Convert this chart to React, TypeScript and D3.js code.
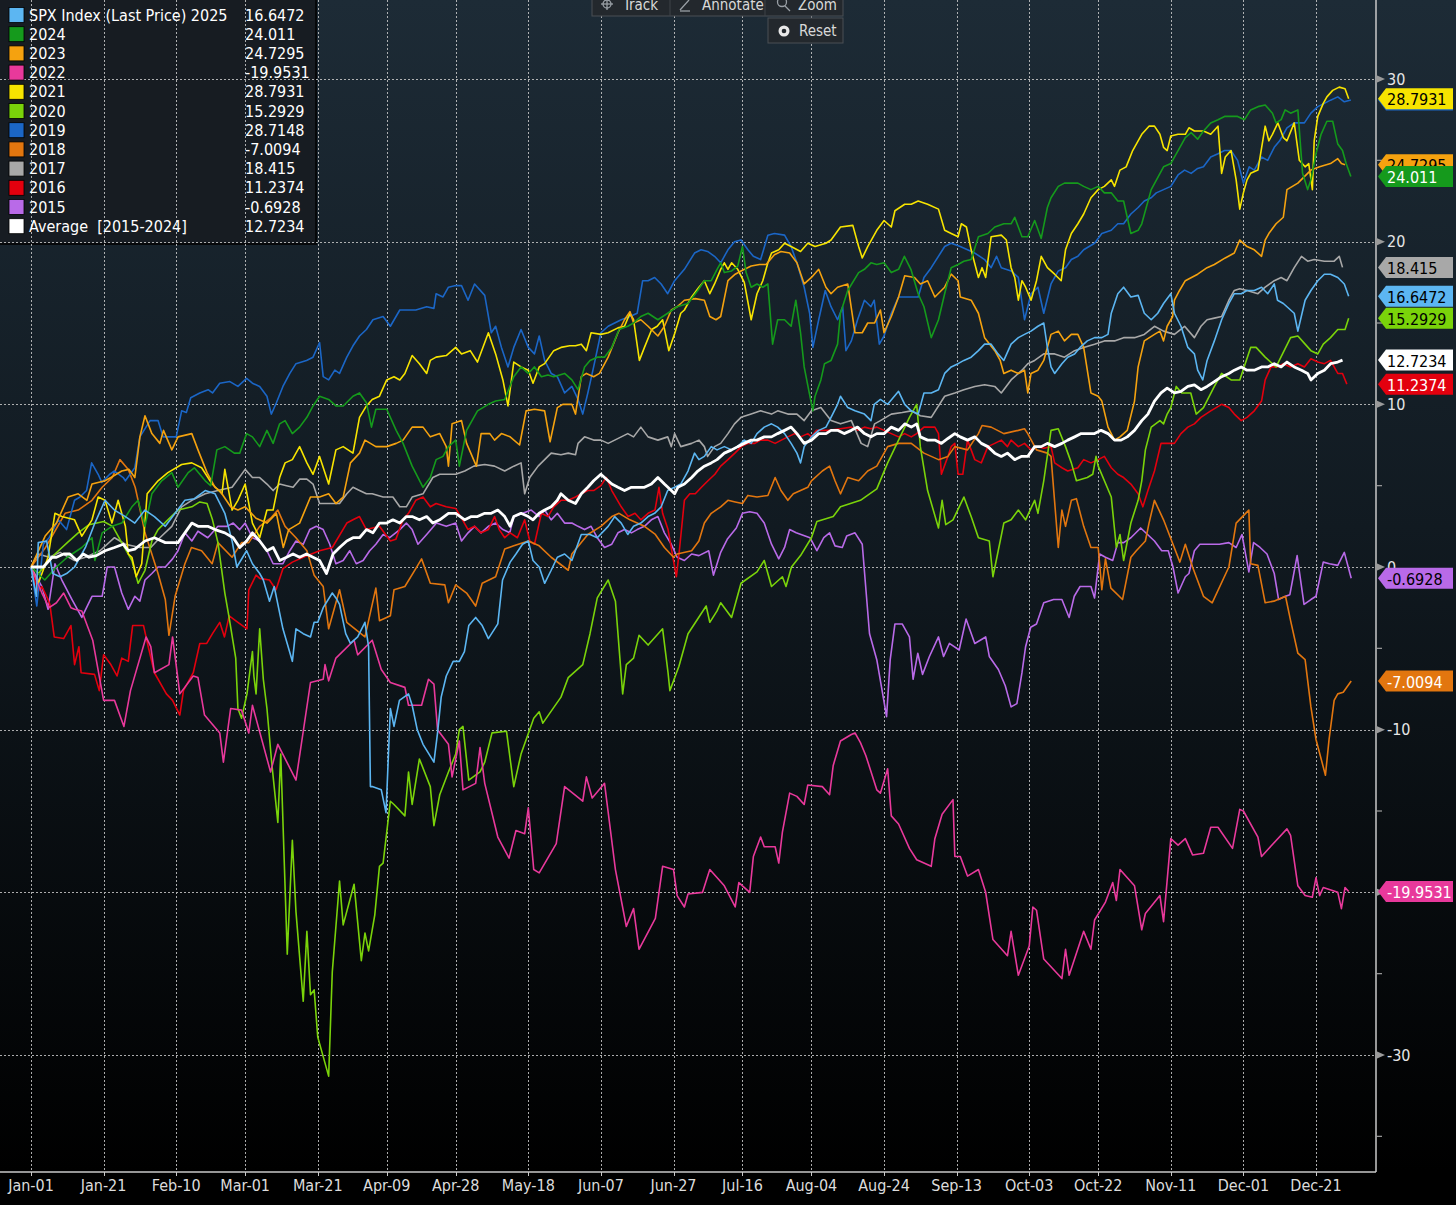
import * as d3 from 'd3';

// seasonality chart: SPX YTD % change by year, day-of-year on x

const dateLabels = ["Jan-01", "Jan-21", "Feb-10", "Mar-01", "Mar-21", "Apr-09", "Apr-28", "May-18", "Jun-07", "Jun-27",
    "Jul-16", "Aug-04", "Aug-24", "Sep-13", "Oct-03", "Oct-22", "Nov-11", "Dec-01", "Dec-21"];
const dateDays = [0, 20, 40, 59, 79, 98, 117, 137, 157, 177, 196, 215, 235, 255, 275, 294, 314, 334, 354];
const yMajor = [30, 20, 10, 0, -10, -20, -30];
const yMinor = [25, 15, 5, -5, -15, -25, -35];

// [day, % change]
const s2025 = [[0,0],[1.5,-1.8],[2,1.5],[4.3,1.6],[6,-0.4],[8,-0.6],[9.8,-0.4],[12,0],[15,1.2],[17.6,2.7],[20.4,4.1],[23,3.5],[26,3.1],[28.6,2.7],[31.4,3.5],[34,3.1],[37,2.5],[39.7,3.3],[42.4,4.1],[45,4.2],[48,4.7],[50.7,4.5],[53.4,3.3],[55.4,1.6],[56.7,0],[59.4,1],[61,0.2],[63,-0.4],[64,-0.8],[65.7,-2.1],[67,-1.2],[69.4,-3.8],[72,-5.8],[73,-3.8],[75,-4.1],[77,-4.3],[78,-3.4],[79,-3.4],[80.5,-2.5],[83,-1.6],[84,-1.9],[85,-2.3],[86.7,-4.1],[88,-4.7],[90,-4.3],[92,-3.4],[93,-4.9],[93.5,-13.5],[94,-13.5],[96.5,-13.7],[97.8,-15.1],[99,-8.7],[100,-9.8],[101.5,-8.2],[104,-7.8],[105,-8.5],[106.4,-10],[108,-10.9],[111,-12],[112,-10.2],[113,-8],[114.4,-6.7],[116.3,-5.8],[118,-5.8],[119.4,-5.2],[120.6,-3.6],[122.5,-3.1],[124.3,-3.6],[126,-4.4],[128.6,-3.5],[129.9,-0.8],[132,0.3],[133.6,0.8],[135.4,1.4],[137,1.6],[138.3,0.4],[140,0],[141.5,-1],[143.3,-0.2],[145,0.6],[147,0.8],[149,0.4],[151.6,2],[154,2],[156,1.8],[159,2.5],[160.8,3.1],[162.6,2.7],[164.4,2],[166,2.5],[168,2.7],[170,3.1],[171.8,3.3],[173.6,3.7],[175.4,4.7],[177.3,4.9],[179,5.1],[181,5.9],[182.8,7],[184,6.6],[185.5,6.8],[187.4,7.4],[189,7.2],[191,7.4],[193,7.2],[194.7,7.4],[196.5,7.8],[198.4,7.6],[200,8.2],[202,8.6],[204,8.8],[205.7,8.6],[207.6,8.2],[209.4,7.6],[211,7],[212,6.4],[213,7.4],[215,8],[217,8.4],[219,8.6],[220.4,9.2],[222.2,10],[223,10.5],[225,9.8],[227,9.6],[229.6,9.4],[231.4,9],[232.3,10],[234,10.3],[236,10],[239,10.8],[240.7,10],[242.5,9.6],[244.4,9.4],[246,10.7],[248,10.7],[250,10.9],[251.7,11.9],[253.5,12.3],[255.4,12.5],[257,12.7],[259,12.9],[261,13.3],[262.7,13.7],[264.5,13.7],[266.4,13.1],[268,12.7],[270,13.7],[272,14.1],[273.7,14.3],[275.5,14.5],[277.4,14.8],[279,15],[280,13.5],[281,12.3],[282,11.9],[284,12.5],[285.6,12.9],[287.5,13.1],[289,13.5],[291,13.9],[293,14.1],[295,14.1],[296.7,14.3],[297.6,15.6],[299.4,16.8],[301,17.2],[303,16.6],[305,16.7],[306.7,15.6],[308.6,15.2],[310.4,15.6],[312,16.2],[314,16.8],[315,15.6],[316.8,14.8],[318.7,13.5],[320.5,13.1],[321.4,12.1],[322.8,11.5],[324,12.7],[326,13.9],[328,15.2],[330,16.2],[331.5,16.8],[333.4,16.8],[335,17],[337,17],[339,17.2],[340.7,16.8],[342.5,17.4],[343.4,16.4],[345,16.2],[348,15.6],[349,14.5],[351,16.4],[352.6,17],[354.5,17.6],[356.3,18],[358,18],[360,17.8],[361.8,17.4],[363,16.65]];

const s2024 = [[0,0],[3.8,-0.8],[7,0],[10,0.6],[14,1.2],[16.8,1.8],[17.6,0.4],[19.6,2.1],[22.3,2.5],[25,2.7],[27.8,3.7],[29.5,4.1],[31.4,2.5],[33.3,4.5],[36,5.3],[38.8,5.8],[40.5,4.9],[43.3,5.8],[45,6.1],[48,5.3],[49.5,5],[51.2,7.2],[53.4,7.4],[56,7],[57.5,7],[59.4,8.2],[61,8],[63,7.4],[65,8.4],[66.7,7.6],[68.5,8.8],[70,9],[72,8.2],[74,8.6],[76,9.2],[77.7,9.9],[79.5,10.5],[82,10.3],[84,9.9],[86,9.9],[88.7,10.5],[90.5,10.7],[92.4,10.1],[93.8,8.6],[95,9.7],[98,9.7],[100.6,8.4],[102.5,7.6],[105,6.2],[108,4.9],[110,5.5],[111.6,6.6],[113.5,6.8],[115,7.4],[117,7.8],[118,6.2],[120,8.4],[123,9.6],[126,10],[128,10.2],[130.5,10.3],[133,11.7],[135,12.3],[137,11.9],[138.7,12.3],[140.6,11.7],[142.4,11.8],[144,11.7],[147,11.9],[149,11.5],[150.7,10.9],[152.5,12.3],[154,12.7],[156,12.9],[158,12.9],[160,13.5],[162,14.6],[164.4,14.8],[166,15],[168,15.4],[170,15.6],[172.7,15.2],[175.4,15.6],[178,16],[181,16.2],[183.7,17],[185.5,17.6],[187.4,17.6],[189,18.3],[190,18.7],[191,18.1],[193,18.2],[194.7,18.5],[196,19.7],[197,18.1],[198.4,17.2],[200,17.4],[201.6,17.2],[203,17.4],[204.3,13.7],[205.7,15.2],[207.6,15.2],[209.4,14.8],[210.7,16.4],[212,14.4],[213,12.3],[214.4,10.7],[215.4,9.6],[216,10.5],[217.6,11.5],[218.6,12.5],[220.4,12.7],[222.2,13.7],[223,15.6],[225,17],[228,18.1],[229.6,18.3],[231.4,18.7],[233,18.6],[235,18.7],[237,18.1],[239,18.3],[240.6,19.1],[242.4,18.3],[244.4,16.8],[246,16],[248,14.1],[250,15.2],[251.7,16.8],[253.5,18.4],[255.4,18.6],[257,18.8],[259,18.9],[261,20.3],[263.6,20.5],[265.5,20.9],[268,21.1],[270,21.1],[271,21.5],[273,20.3],[274.6,20.3],[276.5,21.3],[278.3,20.2],[280,22.1],[281,22.7],[283,23.4],[284.7,23.6],[286.6,23.6],[288.4,23.6],[290,23.4],[292,23.2],[294,23.4],[295.7,23],[297.6,23],[299.4,22.5],[301,22.5],[303,20.5],[305,20.7],[306,21.1],[308.6,23.2],[312,24.6],[314,24.8],[316,25.6],[318,26.4],[319.6,26.7],[321.4,26.3],[323,26.8],[325,27.3],[327,27.5],[328.8,27.7],[332.4,27.7],[334.3,27.5],[336,28.1],[338,28.3],[340,28.4],[342,27.9],[343,27.3],[344.4,27.5],[345.5,28.1],[347,27.9],[349,28.1],[350.3,24.2],[351.7,23.2],[352.6,23.8],[354,25.4],[355.4,26.6],[357,27.4],[358.6,27.4],[360,26],[361.3,25.6],[362.3,24.8],[363.6,24.01]];

const s2023 = [[0,0],[3.9,1.9],[7,2.7],[10.2,4.3],[13,4.5],[15.4,4.1],[16.8,5.1],[20.4,5.3],[22,5.5],[25,5.9],[27,6],[28.6,5.5],[30,8],[31.4,9.3],[33.3,8.2],[35.5,7.6],[36.5,8.4],[38.8,7.2],[40.5,8],[44.3,8.2],[46,7.2],[48.5,5.8],[50.7,4.9],[52,4.7],[55,3.7],[57,3.5],[59,3.7],[62,3],[65,2.7],[67.6,3.3],[69.5,1.2],[71,2.3],[74,2.7],[77,4.3],[79.5,4.3],[82,4.5],[84,3.9],[86,4.3],[88,6.4],[90.5,7],[92,7.8],[95,7.4],[98,7.4],[100.6,7.6],[102.5,7.8],[105,8.6],[108,8.6],[110,8],[112.6,8.2],[114.4,7.4],[115,6.2],[116,8.8],[118.6,9],[120,7.6],[122.7,6.2],[124,8.2],[126.4,8.2],[127.7,7.8],[129.6,8.2],[132,8],[134.6,7.5],[136.4,9.6],[138.7,9.7],[141.5,9.6],[143,7.7],[145,9.8],[146.5,10],[149,10],[150,9.4],[151.6,11.7],[153,11.9],[155,11.7],[156.6,11.9],[159,12.9],[161.7,14.4],[163.5,15.2],[165,15.7],[166,15],[168,15.2],[170,14.8],[172.7,14.2],[174.5,14.8],[176.4,15.8],[178,16],[180,16.4],[183,16.5],[185.5,16.4],[187,15.4],[188.7,15.2],[190,15.4],[192,17.6],[194,18],[195.6,18.2],[198.4,18.5],[200.7,18.6],[202.5,18.6],[204.8,19.2],[206.6,19.4],[209,19.3],[211,18.7],[213,17.4],[215,17.8],[217,18.3],[219,17.2],[220.4,16.8],[222.2,17.2],[225,17.4],[227,14.4],[229,14.4],[230.5,15],[232.4,15],[234,15.8],[235,14.4],[237,15.4],[239,16.6],[240.7,17.9],[243.4,17.8],[245,17.4],[247,17.6],[249,16.6],[251.7,17.2],[253.5,18],[255.4,17.6],[256,16.6],[259,16.4],[261,15.6],[262.7,14.1],[265.5,13.3],[267,12.7],[268,11.9],[270,12.1],[272,11.9],[273.7,12.1],[274.6,10.7],[275.5,11.9],[277.4,12.1],[279,12.7],[281,14.3],[283,14.5],[284.7,13.9],[286.6,14.3],[288.4,14.3],[290,13.5],[292,10.7],[294,10.5],[295,10.2],[296.7,8.6],[298.5,7.8],[300,8],[302,8.4],[304,10.2],[305,12.3],[306.7,13.9],[309.5,14.3],[311,14.5],[312,13.9],[313,14.8],[314.5,15.4],[315,16.4],[316.4,17],[318,17.6],[321.4,18],[324,18.4],[326,18.6],[329,19],[331.5,19.3],[333,20.1],[335,19.7],[337,19.5],[339,19.1],[340,20.1],[341,20.5],[343,21.1],[345,21.5],[346,23.2],[349,23.6],[350.8,24],[352.6,24.4],[355,24.6],[358,24.8],[360,25.1],[361,24.8],[362,24.73]];

const s2022 = [[0,0],[3,-1.6],[5,-2.5],[7,-2.2],[9,-1.6],[11,-2.5],[12,-2.6],[14,-2.7],[17,-4.5],[20,-8.2],[23,-8.2],[25.6,-9.8],[27.4,-7.6],[31.7,-4.3],[33,-4.9],[34,-6.5],[38,-6],[39,-4.3],[41,-7.8],[44.7,-6.7],[46,-6.8],[47.8,-9.1],[52,-10.2],[53,-12],[55,-8.7],[58,-8.8],[60,-10.2],[61,-8.5],[66,-12.6],[68,-10.9],[73,-13.1],[77,-7.1],[80.5,-6.9],[81,-6],[82,-7],[84,-5.6],[89,-4.5],[90,-5.4],[94,-4.5],[96.5,-6.3],[99,-7.1],[103,-7.4],[104,-8.5],[107.6,-8.5],[109.5,-6.9],[111,-7.2],[112,-10],[115,-10.9],[116,-12.9],[118,-10.7],[119,-13.7],[122.5,-13.3],[123.7,-11.1],[125,-13.3],[128.6,-16.6],[131.7,-17.9],[133.6,-16.2],[136,-16.4],[137,-14.8],[138.5,-18.6],[140,-18.8],[144.7,-17],[147,-13.5],[152,-14.4],[153,-12.9],[154.6,-14.2],[158,-13.3],[161,-18.6],[164,-22.1],[166,-21],[167.5,-23.5],[172,-21.6],[174,-18.4],[177,-18.6],[178,-20.2],[180,-20.9],[181,-20.1],[185,-20],[187,-18.6],[191,-19.6],[194,-20.9],[195,-19.4],[198,-20],[199,-17.8],[201,-16.6],[202,-17.2],[205,-17.2],[206,-18.2],[207,-16.3],[209,-13.9],[211,-14.1],[213,-14.6],[214,-13.4],[218,-13.5],[220,-14],[221,-12.2],[223,-10.7],[226,-10.3],[227,-10.2],[228.5,-10.8],[230,-11.6],[233,-13.7],[234,-13.9],[236,-12.4],[237,-15.3],[239,-15.8],[242,-17.3],[244,-18],[248,-18.4],[249,-16.7],[251,-15.2],[254,-14.3],[254.5,-17.8],[256,-17.8],[258,-19],[261,-18.6],[263,-20],[265,-22.9],[269,-23.9],[270,-22.4],[272,-25.1],[275,-23.3],[276,-20.9],[277,-21.1],[279,-24.1],[284,-25.3],[285,-23.5],[286,-25.1],[290,-22.4],[292,-23.5],[293,-21.7],[296,-20.6],[298,-19.4],[299,-20.5],[300,-18.6],[304,-19.6],[306,-22.3],[307,-21.3],[311,-20.2],[312,-21.8],[314,-16.7],[316,-17.1],[318,-16.7],[320,-17.7],[323,-17.6],[325,-16],[327,-16],[331,-17.3],[333,-14.9],[334,-15],[338,-16.6],[339,-17.8],[341,-17.3],[346,-16.1],[347,-16.5],[349,-19.6],[351,-20.2],[353,-20.3],[354,-19.1],[355,-20.2],[356,-19.7],[360,-20],[361,-21],[362,-19.7],[363,-19.95]];

const s2021 = [[0,0],[2,-1],[4.7,0.6],[6.6,3.3],[8.5,3.1],[12,2.9],[14,1.9],[16.8,2.9],[18.5,4.3],[20.4,4.1],[22.3,2.7],[24,4.1],[26,2.5],[26.8,0.8],[27.8,0.6],[29,-0.6],[30.5,0.2],[32,4.5],[35,5.3],[37.7,5.8],[41.5,6.3],[44.3,6.4],[47,6.1],[49.9,5.1],[52.6,4.5],[53.4,6],[55.4,3.5],[57,4.1],[59,5.1],[61,2.7],[63,1.8],[65,3.5],[66.7,3.5],[68.5,5.5],[70,6.4],[72,6.6],[74,7.4],[76,6.4],[77.7,5.7],[79.5,6.8],[82,5.1],[84,7.2],[86,7.4],[88.7,7],[90.5,9.2],[92.4,9.9],[94,10.3],[96,10.5],[98,11.5],[100,11.7],[101.6,11.5],[103,11.9],[105,13],[107,12.5],[109,11.9],[110,12.7],[111.6,12.9],[114.4,13],[117,13.5],[118.6,13.1],[121,13.3],[123,12.6],[126,14.4],[128,13.1],[130,11.5],[131.4,9.9],[133,12.6],[135,12.3],[137,12.1],[138.3,11.3],[140,12.3],[141.5,12.5],[144,13.3],[146,13.5],[148.4,13.6],[150,13.6],[151.6,13.7],[153,13.3],[154.3,14.4],[157,14.3],[159,14.4],[161.7,14.7],[163.5,14.8],[165,15.6],[166,15.2],[167.6,12.7],[169,13.5],[171,14.6],[172.5,14.8],[174,15.2],[175.7,13.3],[177.4,14.4],[179,15.6],[180,15.8],[182,16.6],[184,17.2],[185.5,17.6],[187,16.8],[188.3,17.4],[190,18.3],[191,18.7],[192,18.3],[193,18.7],[194.7,18.3],[196.5,17.5],[198.4,15.2],[200,16.8],[201.6,17.6],[203,18.7],[204,19.3],[206,19.5],[207.6,19.9],[209.4,19.7],[212,19.4],[214,19.9],[216,19.7],[219,19.9],[220.4,20.1],[223,20.9],[226.4,21],[228,19.7],[229,19],[230.5,19.7],[233,20.7],[235,21.3],[237,20.9],[238,21.9],[240.7,22.3],[242.5,22.3],[244.4,22.5],[247,22.3],[250,22],[251.7,20.7],[253.5,20.5],[255.4,20.3],[256.3,21.1],[257.7,20.9],[259,19.5],[261,17.8],[262,18.4],[263,17.8],[264.5,20.3],[267.3,20.4],[268.7,20.1],[270,18.4],[271,17.8],[272,16.4],[273,17.6],[274,17.2],[275.5,16.4],[277,17.6],[278.3,19.1],[280,18.4],[282,18],[283.8,17.6],[285,19.5],[286.6,20.5],[288.4,21.1],[290,21.7],[292,22.7],[294,23.2],[295.7,23.4],[297.6,23.8],[298.5,23.4],[300,24.4],[301.7,24.6],[303.5,25.6],[306,26.6],[308,27.1],[309.5,27.1],[311,26.6],[312,25.8],[313,25.6],[314,26.5],[316,26.6],[318,26.6],[319,27],[320.5,26.8],[323,26.8],[325,26.6],[327,27.1],[328,24.2],[329,25.2],[330.6,25.6],[332,23.8],[333,22],[334,23],[335,23.8],[336,24.2],[338,24.4],[340,27.1],[341,26.2],[342,26.6],[343.5,27.3],[345,26.4],[346,26.2],[348,27.3],[349.4,25],[351,24.6],[352,24.8],[353,23.2],[353.5,26.2],[354.5,27.7],[356,28.5],[357,28.9],[358.6,29.3],[360.4,29.5],[362,29.4],[363,28.79]];

const s2020 = [[0,0],[2,-0.4],[6.6,0.8],[10,1.5],[13,2.1],[16,2.6],[20,2.8],[22.5,2.5],[25,1.5],[27.8,0.4],[29.5,-1],[31.4,-0.2],[33.3,1.6],[35,2.3],[37.7,2.9],[40.5,3.5],[44.3,3.7],[46.5,4],[48.5,3.9],[50,2.9],[51.5,1.5],[53.4,-1.6],[54.5,-3],[56.4,-5.6],[57,-8.7],[58,-9.3],[59.5,-7.8],[61,-5.2],[61.4,-6.7],[62,-7.8],[63,-3.8],[64,-6.9],[65,-8.7],[66.3,-12],[68,-15.7],[68.8,-11.5],[70.6,-23.8],[72,-16.8],[73,-21.2],[75,-26.7],[76,-22.4],[77,-26.3],[78,-26],[79,-28.9],[82,-31.3],[83,-24.9],[85,-19.3],[86,-22],[89,-19.5],[91,-24.2],[92,-22.5],[93,-23.6],[94.7,-21.4],[96,-18.4],[97,-18.2],[99,-14.4],[100,-14.6],[103,-15.3],[104,-12.6],[105,-14.6],[107,-11.8],[110,-13.5],[111,-15.9],[112.6,-14],[115,-12.6],[117,-11.5],[118,-10],[119,-9.8],[120.6,-13.1],[123.7,-12.6],[125,-12],[127,-10.2],[131,-10.1],[133,-13.5],[135,-11.5],[138.5,-9.3],[140,-8.9],[141,-9.6],[146,-8],[148,-6.8],[152,-6],[154,-4.1],[156,-1.9],[159,-0.8],[161,-2.1],[163,-7.8],[164,-6],[166,-5.6],[167.5,-4.2],[170,-4.8],[174,-3.8],[175.5,-6.5],[176,-7.6],[178.5,-6.1],[181,-4.1],[186,-2.4],[187,-3.4],[189,-2.7],[190,-2.2],[193,-3.1],[195.6,-1],[200,-0.3],[202,0.4],[204,-1.2],[207,-0.6],[208,-1.2],[209.5,0],[212,0.7],[215,1.8],[216.5,2.8],[221,3.1],[223,3.7],[228.5,4.1],[233,4.8],[236,6.4],[239,7.8],[242,9.2],[244,10],[245,7.4],[247,4.7],[250,2.4],[251,4.1],[252,2.6],[254,2.9],[257,4.3],[259,3.1],[261,1.8],[264,1.6],[265,-0.6],[268,2.7],[270,2.9],[272,3.5],[274,2.9],[276.5,4.1],[277.4,3.3],[279,5.3],[281,8.4],[283,8.5],[285,7.4],[286.6,6.4],[288,5.3],[291,5.5],[292.5,5.7],[293.4,6.8],[294,6.2],[297.6,4.3],[299,1.2],[300,2],[301,0.4],[303,2.7],[305,4.1],[306,5.3],[307,7.2],[308.6,8.6],[311,9],[312,8.8],[313,9.4],[314,9.8],[315.5,11.1],[317,10.7],[319.5,10.7],[321,9.4],[323,9.8],[326,11.1],[328,11.9],[330.6,11.5],[333,11.5],[336,13.5],[337.5,13.5],[340,12.9],[342,12.5],[343,12.3],[347,14.1],[349,14.2],[351,13.7],[352.6,13.3],[354.5,13.1],[356,13.7],[358,14.1],[360,14.6],[362,14.6],[363,15.29]];

const s2019 = [[0,0],[1.6,-2.4],[3.4,1.4],[5,1.8],[7.5,2.9],[9.8,2.3],[12,4.1],[13.5,4.3],[15.3,4.7],[16.7,6.4],[18.5,5.7],[19.5,5.2],[21.7,5.7],[23,5.9],[25.4,5.5],[26,5.3],[28.6,6.1],[30,8],[32.8,9],[35,9],[36.4,8],[38.3,8],[40,8],[41.5,9.6],[42.8,9.5],[44,10.4],[46.5,10.7],[48.8,10.9],[50,10.7],[52,11.3],[54.8,11.4],[57,11.1],[59.4,11.6],[61,11.3],[63,11.1],[65,10.5],[66.2,9.4],[67.6,10.1],[69.4,11.1],[71.3,11.9],[73,12.5],[75.9,12.7],[77.7,12.9],[79.5,13.8],[80.5,11.7],[82,11.5],[83.7,12.1],[85,11.9],[87,12.9],[88.7,13.6],[90.5,14.2],[92.4,14.6],[94.2,15.2],[97,15.4],[99,14.8],[101.6,15.8],[104,15.8],[106,15.8],[109,16],[111,15.9],[111.6,16.8],[113.5,16.6],[115,17.2],[117,17.3],[118.6,17.3],[120.4,16.4],[122.2,17.4],[125,16.7],[126.8,14.4],[128,14.8],[129.6,13.5],[131.4,12.3],[133,13.5],[135,14.6],[137,13.5],[138.7,13.1],[140,14.2],[141.5,12.7],[143.3,11.9],[145,11.7],[147,10.7],[149,11.1],[150.7,10.3],[152,9.4],[153.4,10.7],[155,12.3],[157,14.4],[159,14.8],[160.8,15],[162.6,15.2],[165,15.4],[167,15.6],[168.5,17.6],[170,17.6],[171.8,17.8],[173.6,17.4],[175.4,16.8],[177.3,17.6],[180,18.3],[182.8,19.3],[184.6,19.5],[186.4,19.4],[188.3,19.1],[190,18.7],[192,19.5],[193.8,20],[195.6,20.1],[197.5,19.5],[199,19.1],[201,18.9],[203,20.4],[204.8,20.5],[207.6,20.4],[209.4,19.7],[211,18.7],[213,17.2],[214.5,15.6],[215.4,13.5],[217,15.2],[218.8,17],[220.4,16],[222.2,15.2],[223.6,16],[224.5,13.3],[226,13.9],[227.7,15.2],[229.6,16.4],[231.4,16],[232.3,16.4],[233.7,13.7],[235,14.2],[237,15.6],[239,16.6],[240.6,16.6],[242.4,16.6],[244.4,16.6],[246,17.8],[248,18.4],[251.7,19.7],[253.5,19.9],[256,19.7],[258,19.5],[260,19.3],[262.7,18.9],[264.5,18.4],[266,19.1],[267.3,18.4],[270,18.2],[272,17.8],[273.7,15.2],[275.5,16.8],[277.4,17.2],[279,15.6],[281,17.4],[283,18.2],[285,18.4],[286.6,18.9],[288.4,19.1],[290,19.5],[293,19.9],[295,20.5],[297.6,20.7],[299.4,21.1],[301,21.1],[303,21.7],[305,22.1],[306.7,22.5],[308.6,22.7],[310,23],[312,23.2],[314,23.4],[316,24.1],[317.8,24.4],[319.6,24.2],[321.4,24.5],[323,24.6],[325,25.2],[327,25.4],[328.8,25.6],[330.6,25.6],[332.4,25],[334,23.6],[335.6,24.6],[337,24.4],[339,25.2],[340.7,25],[342.5,25.8],[344,26.2],[346,27],[348,27.3],[350.8,27.3],[352.6,27.9],[354.5,28.3],[356.3,28.5],[358,28.7],[360,28.9],[361.8,28.6],[363.6,28.71]];

const s2018 = [[0,0],[4,1.2],[9.4,3.3],[13,3.5],[16.8,4.1],[19.6,4.9],[22.4,5.5],[24.5,6.6],[26.8,6],[28.7,4.9],[29.5,4.1],[31.4,2.1],[33,1],[35,-0.4],[37,-2],[38,-4.2],[39.7,-1.8],[42.4,0.2],[44.2,1.2],[47,1],[49.9,0.2],[51.5,1.5],[55.4,0.6],[58,1.5],[60,1.5],[63,2.5],[66,3],[68,3.5],[70,2.5],[73,1.8],[76,1],[78,-0.5],[80.5,-1.2],[82,-3.8],[85,-1.4],[87,-3.4],[92,-4.3],[95,-1.3],[96,-3.3],[99,-3],[100,-1.4],[103,-1.2],[106,-0.1],[107.6,0.5],[110,-1],[114,-1.1],[115,-2.2],[117,-1.1],[120,-1.6],[122.5,-2.4],[124.3,-1],[128,-0.6],[130.5,1.1],[133,1.3],[137,1.6],[140,1.3],[143.3,0.6],[148,-0.2],[149,0.8],[153.4,2],[157,2.5],[160,3.1],[162,3.3],[165,2.9],[169,2.5],[172,2],[174.5,1.2],[177,0.6],[178,0.8],[182,1],[184,1.6],[185.5,2.7],[187.4,3.3],[190,3.7],[192,4.1],[194,4],[196,3.9],[197.5,4.4],[200,4.3],[203,4.4],[205,5.5],[206.6,4.7],[208.5,4.1],[210,4.5],[212,4.7],[214,4.9],[215,5.3],[218,5.9],[220,6.2],[221.5,5.3],[223,4.5],[225,5.5],[228,5.3],[230.5,5.9],[233,6.2],[236,7.4],[239,7.6],[242.5,7.6],[246,7],[250,6.6],[252.6,6.8],[254.5,7.4],[258,7.2],[261,8.2],[262,8.7],[264.5,8.6],[268,8.2],[272,8.4],[273.7,8.5],[274.6,8.2],[277,7.2],[280,7],[281,6.8],[282,4],[283,1.2],[284,3.5],[285,2.5],[286.6,4.1],[288,4.2],[290,2.5],[292,1.2],[294,1.2],[295,-1.4],[296,0.5],[297.5,-1.3],[300.7,-2],[303,0.6],[304.5,1],[307,1.6],[308,2.7],[309.5,4.1],[312,2.9],[314.6,1.4],[316.5,0.3],[318,1.4],[320,0],[323,-1.8],[325.4,-2.2],[330,0],[332,2.7],[335.5,3.5],[336,0.2],[338,0.1],[340,-2.2],[342.4,-2.1],[345.6,-1.8],[347,-3.3],[349,-5.3],[351,-5.7],[352.6,-8.6],[354,-10.6],[356.6,-12.8],[357.6,-10.6],[359,-8.2],[360,-7.8],[361.5,-7.7],[363.7,-7.01]];

const s2017 = [[0,0],[2,0.8],[5,0.6],[8,0.9],[12,0.4],[15,0.6],[19,1],[23,1.8],[26,1.4],[30,1.2],[33,1.2],[35.5,1.8],[38.8,2.5],[41.5,3.7],[44.3,4.1],[48,4.5],[51.5,4.7],[55.4,4.9],[59,6],[61,5.5],[63,5.5],[65,5.1],[66.7,4.7],[68.5,5.1],[70.4,5],[72.2,4.9],[74,5.4],[76,5.4],[77.7,5.1],[79.5,3.9],[82,3.9],[85,3.9],[87,4.5],[88.7,4.9],[90.5,4.7],[92.4,4.5],[94,4.5],[97,4.3],[99.7,4.3],[101.6,3.7],[103.4,3.7],[105,4.3],[108,4.5],[110.7,5.5],[112.6,5.7],[115,5.7],[117,5.7],[119.5,5.9],[122,6.2],[125,6.3],[127.7,6.2],[130.5,5.9],[133,6.2],[135,6.4],[136,4.5],[137.4,5.5],[139.7,6.2],[141.5,6.6],[143.3,7],[146,6.9],[148,7],[150,6.9],[150.7,7.6],[152.5,8],[155,7.8],[157,7.8],[159,7.6],[160.8,7.8],[162.6,8],[164.4,8.2],[166,8],[168,8.6],[170,8],[172.7,7.8],[175.4,8],[176.4,7.4],[177.3,8.2],[179,7.4],[182,7.6],[184,7.8],[185.5,7.4],[186.4,6.8],[188.3,7.4],[190,7.6],[192,8.2],[193.8,8.8],[195.6,9.2],[198.4,9.4],[201,9.6],[204,9.4],[205.7,9.6],[208.5,9.4],[211,9.4],[213,9],[215,9.6],[217.6,9.8],[220.4,9],[223,8.8],[226,9],[228.7,7.6],[230.5,7.4],[232.4,8.8],[234,9],[237,9.4],[240,9.5],[242.5,9.6],[245,9.3],[248,9.2],[251.7,10.5],[254.5,10.7],[257,10.9],[260,11.1],[262.7,11.2],[265.5,11.1],[267.3,10.7],[270,11.5],[273,12.1],[274.6,12.5],[276.5,12.7],[279,13.1],[282,13.1],[284.7,12.9],[287.5,13.3],[290,13.5],[293,13.7],[295.7,13.9],[298.5,13.9],[301,14.1],[304,14.1],[306.7,14.3],[309.5,14.8],[312,14.5],[315,14.3],[317.8,14.8],[320.5,14.1],[322.3,14.8],[324,15.2],[326,15.3],[328,15.4],[330,16.4],[331.5,17],[333,17.1],[335,17],[338,16.8],[340,17.2],[342.5,17.6],[344.4,17.8],[346,17.6],[348,18.4],[350,19.1],[351.7,18.8],[353.5,18.9],[356.3,18.8],[359,18.8],[360.4,19.1],[361.3,18.42]];

const s2016 = [[0,0],[2,-1.5],[3,-1.2],[4.7,-2],[5.2,-2.3],[6.4,-4.3],[9,-4.4],[11,-3.6],[12,-6],[13.2,-4.9],[13.8,-6.5],[17.5,-6.6],[18.8,-7.6],[20,-5.4],[22,-6],[23.7,-6.7],[25,-5.6],[26.8,-5.8],[28,-3.6],[31,-3.6],[32.3,-4.9],[34,-6.5],[37.3,-7.8],[39,-8.2],[41,-9.1],[42,-7.6],[44.7,-6.5],[46.5,-4.7],[48.4,-4.7],[50,-4.1],[52,-3.4],[53.3,-4.3],[54.6,-3],[57,-3.4],[59.5,-3.8],[60,-1.4],[62,-0.5],[63,-0.7],[65.7,-0.8],[67.5,-1.4],[69.4,-0.1],[72,0.3],[75,0.6],[79.5,1],[83,1.2],[87,2.7],[88.7,2.9],[90.5,3.1],[92.4,2.3],[96,2.5],[99,1.6],[100.5,1.7],[102.5,2.9],[104,3.3],[106,4.1],[108,4.3],[110,3.7],[111.6,3.9],[114.4,3.7],[117,3.6],[118.6,3],[120.4,2.3],[122.2,2.5],[124,2.1],[126,2.3],[127.7,3.1],[129,2.3],[130.5,1.8],[132,2.1],[134,1.8],[136,2.9],[137.4,1.6],[138.7,1.4],[140.6,3.3],[142.4,3.1],[144,3.7],[146,4.1],[148,4.1],[150,4.3],[151.6,4.5],[153.4,4.7],[155,4.7],[157,5],[158.5,5.5],[160,4.7],[162.6,3.7],[164.5,3.1],[166.4,3.3],[168,2.9],[170,3.3],[171.9,3.5],[173,4.9],[174,3.3],[175.5,2.3],[177,0.4],[177.8,-0.6],[178.7,1.2],[180,4.1],[181.5,4.5],[183,4.5],[184.7,4.9],[186.5,5.3],[188.4,5.7],[190,6.2],[192,6.6],[193.9,7],[195.7,7.4],[197.5,7.6],[199.4,7.6],[201,7.8],[203,7.8],[205,7.6],[206.7,7.8],[208.5,8],[210.4,8.2],[212,8],[214,8.2],[215,8],[216.4,8.4],[219.6,8.4],[223,8.5],[226,8.6],[227.8,8.4],[229.6,8.6],[231.4,8.5],[233,8.6],[235,8.4],[237,8.2],[239,8],[240.7,8.2],[242.5,8],[244,8.2],[246,8.6],[249,8.6],[250,8.2],[250.8,5.7],[252.6,6.8],[253.5,7.4],[254.5,7.6],[255.4,5.7],[256.7,5.7],[258,7.8],[260,6.6],[261.8,6.4],[263.6,7.4],[265.5,7.6],[267.3,7.8],[269,7.4],[270,7.8],[272,7.4],[273.7,7.6],[275.5,7.2],[277.4,7.4],[279,7.3],[281,7.4],[282,6.4],[284,6.1],[285.6,5.9],[288.4,6.1],[290,6.6],[292,6.4],[294,6.6],[295.7,6.8],[297.6,6.1],[299.4,5.7],[301,5.5],[303,5.1],[305,4.5],[306.3,3.7],[307.7,4.7],[309.5,5.9],[311.3,7.6],[313,7.6],[315,7.6],[316.8,8.2],[318.7,8.6],[320.5,8.8],[322.3,9.2],[325,9.6],[328,10],[330,9.8],[331.5,9.4],[333.4,9],[335,9.2],[337,9.6],[339,10.2],[340,11.5],[341.6,12.3],[343.4,12.3],[345,12.5],[347,12.3],[349,12.5],[350.8,12.3],[352.6,12.8],[354.5,12.6],[356.3,12.5],[358,12.7],[360,11.9],[361.3,11.9],[362.5,11.24]];

const s2015 = [[0,0],[3,-1.2],[4.7,-2.6],[6.6,0.2],[8.5,-0.8],[11.3,-2],[14,-3.1],[16.8,-1.8],[19.6,-1.8],[21,0],[23,0],[25,-1.6],[26.8,-2.6],[28.6,-1.8],[30,-2.1],[31.4,-0.8],[33.3,-0.4],[35,0],[37,0],[39,0.5],[40.5,1],[42.4,2.1],[44.3,1.6],[46,2.2],[48.7,1.8],[51.5,2.5],[54,2.5],[55.7,2.7],[57.5,2.3],[59,2.7],[61,1.8],[63,1.6],[65,1],[66.7,0.2],[69.4,0.2],[71.3,1],[73,1.6],[75,1.4],[76.8,2.3],[78.6,2.5],[80.5,2.3],[82.3,1.4],[84,0.2],[86,0.4],[87.8,1],[89.6,0.2],[91.5,0.4],[93.3,1],[95,1.4],[97,2],[98.8,1.8],[101.6,2.3],[103.4,2.7],[105,2.3],[106.6,1.4],[109,2],[111.7,2.7],[114.4,2.5],[117,2.7],[118.6,1.6],[120.4,2.1],[122.2,2.5],[124,2.1],[126,2.5],[128,2.7],[130,2.3],[131.9,2.1],[133,3.1],[135.5,3.3],[137.8,3.5],[140,3.1],[141.5,3.5],[143.3,2.9],[145,3.3],[147,2.7],[149,2.7],[150.7,2.5],[152.5,2.3],[154.3,2.5],[156,1.8],[158,1.2],[160,1.4],[161.7,2.1],[163.5,2.3],[165.4,2.1],[167,2.3],[169,2.5],[170.9,2.9],[172.7,3.1],[174.5,2.1],[176.4,1.4],[178,0.6],[180,0.4],[182,0.8],[184,0.7],[186.7,1],[188,-0.5],[190,0.9],[191.8,1.7],[194.3,2.4],[196,3.3],[198,3.4],[200,3.3],[202,2.7],[204,1.4],[206,0.5],[207.6,1.2],[209,2.3],[210.8,2.1],[214.6,1.8],[216.5,1],[218.4,1.8],[220,2.1],[221.5,1.3],[223.5,1.2],[224.7,1.9],[227,2.1],[229,1.4],[231,-4.1],[233,-5.7],[235.7,-9.2],[236.7,-5.7],[238,-3.5],[240,-3.5],[242,-4.3],[243,-6.9],[244.3,-5.3],[245.6,-6.6],[247.5,-5.5],[250,-4.3],[251.4,-5.5],[253,-4.7],[255.7,-5.1],[257.6,-3.2],[260,-4.7],[263,-4.3],[264,-5.5],[266.5,-6.3],[268.4,-7.3],[270,-8.6],[271.6,-8.4],[273,-6.5],[274,-4.9],[275.4,-3.7],[277,-3.5],[279,-2.2],[281.7,-2],[284,-2],[286,-3.1],[287.4,-1.8],[289,-1.2],[292,-1.2],[293,-1.9],[294.4,0.8],[296,0.6],[298,0.4],[299.4,1.5],[301,1.5],[303,1.8],[305.7,2.4],[307.6,2],[309.5,1.6],[311.5,1],[313.3,1],[314.6,0],[316,-1.6],[318,-0.6],[319,-0.4],[320.5,1],[322,1.4],[325,1.4],[327.4,1.4],[330,1.5],[332,1.2],[333.6,2],[335.5,-0.3],[336.8,1.5],[338.6,1.2],[340.5,0.8],[342.5,-0.4],[343.7,-2],[345.6,-1.8],[346.8,-1.7],[348.8,0.7],[350.7,-2.3],[352.6,-2],[354,-1.8],[356,0.3],[357.7,0.2],[360,0.1],[361.8,0.9],[363.7,-0.69]];

const sAvg = [[0,0],[3.4,0],[5.8,0.6],[7,0.6],[9,0.8],[10.7,0.8],[12.6,0.4],[14.4,0.8],[16,0.6],[18,0.7],[20.4,1],[23,1.2],[25.4,1.4],[26.8,1],[28.6,1.1],[31.4,1.6],[34,1.8],[37,1.5],[40.5,1.5],[42.4,2.1],[44.3,2.7],[46,2.5],[48.7,2.5],[50.7,2.3],[53.4,2.1],[55.7,1.8],[57.5,1.2],[59.4,1.6],[61,2.1],[63,1.6],[65,1],[66.7,1.2],[68.5,0.4],[70.4,0.6],[72.2,0.8],[74,0.6],[75.9,0.8],[77.7,0.6],[79.5,0.4],[81.4,-0.4],[83.2,0.8],[85,1.2],[87,1.6],[88.7,1.8],[90.5,1.8],[92.4,2.3],[94.2,2.1],[96,2.7],[98,2.7],[99.7,2.9],[101.6,2.7],[103.4,3.1],[105,3.1],[107,2.9],[109,3.1],[110.7,2.7],[112.6,2.9],[115,3.3],[117,3.3],[119.5,2.9],[121.3,3.1],[123,3.1],[125,3.3],[126.8,3.3],[128.6,3.5],[130.5,3.1],[132,2.5],[133,3.1],[135,3.3],[137,3.1],[138.3,2.9],[140,3.3],[141.5,3.5],[143.3,3.7],[145,4.1],[146,4.5],[148,4.1],[150,3.9],[151.6,4.5],[153.4,4.9],[155,5.3],[157,5.7],[158,5.5],[160,5.1],[161.7,4.9],[163.5,4.7],[165.4,4.9],[167,4.9],[169,4.9],[170.9,5.1],[172.7,5.5],[174.5,5.1],[176.4,4.7],[177.3,4.5],[178.2,4.9],[180,5.1],[182,5.5],[183.7,5.9],[185.5,6.2],[187.4,6.4],[189,6.6],[191,7],[193,7.2],[194.7,7.4],[196.5,7.6],[198.4,7.8],[200,7.8],[202,8],[204,8],[205.7,8.2],[207.6,8.4],[209.4,8.6],[211,8.2],[213,7.6],[215,7.8],[217,8.2],[219,8.2],[220.4,8.4],[222.2,8.4],[224,8.2],[226,8.4],[227.7,8.6],[229.6,8.2],[231.4,8],[233,8.2],[235,8.2],[237,8.6],[239,8.4],[240.7,8.8],[242.5,8.6],[244,8.8],[245,8],[247,7.8],[249,7.8],[250.8,7.6],[252.6,7.9],[254.5,8.2],[256,8],[258,7.8],[260,8],[261.8,7.6],[263.6,7.4],[265.5,7],[267.3,6.8],[269,7],[271,6.6],[272.8,6.8],[274.6,6.8],[276.5,7.4],[278.3,7.4],[280,7.6],[282,7.4],[284,7.6],[285.6,7.8],[287.5,8],[289.3,8.2],[291,8.2],[293,8.2],[294.8,8.4],[296.7,8.2],[298.5,7.8],[300.3,7.8],[302,8],[304,8.4],[306,9],[307.7,9.4],[309.5,10.2],[311.3,10.7],[313,11],[315,10.7],[316.8,10.8],[318.7,11.1],[320.5,11.2],[322.3,10.9],[324,11.1],[326,11.4],[328,11.7],[330,11.9],[331.5,12.1],[333.4,12.3],[335,12.1],[337,12.1],[339,12.3],[340.7,12.3],[342.5,12.5],[344.4,12.3],[346,12.6],[348,12.3],[350,12.1],[351.7,11.9],[352.6,11.5],[354.5,11.9],[356.3,12.1],[358,12.5],[360,12.6],[361.3,12.72]];

const seriesNames = ["SPX Index (Last Price) 2025", "2024", "2023", "2022", "2021", "2020", "2019", "2018", "2017", "2016", "2015", "Average  [2015-2024]"];
const lastValues = ["16.6472", "24.011", "24.7295", "-19.9531", "28.7931", "15.2929", "28.7148", "-7.0094", "18.415", "11.2374", "-0.6928", "12.7234"];
const seriesData = [s2025, s2024, s2023, s2022, s2021, s2020, s2019, s2018, s2017, s2016, s2015, sAvg];

const colors = ["#5cb6f2", "#159a1c", "#f5a20f", "#e8399b", "#f7e400", "#7ad30a", "#1b66c6", "#e2760f", "#a8a8a8", "#e3000e", "#b96ae8", "#ffffff"];
const tagText = ["#000", "#fff", "#000", "#fff", "#000", "#000", "#fff", "#fff", "#000", "#fff", "#000", "#000"];

const FONT = '"DejaVu Sans Condensed", "Liberation Sans", Arial, sans-serif';

const App = () => {
    const W = 1456, H = 1205;
    const plotRight = 1376, plotBottom = 1172;

    const x = d3.scaleLinear().domain([0, 354]).range([31, 1316]);
    const y = d3.scaleLinear().domain([-30, 30]).range([1055, 79]);

    const line = d3.line<number[]>()
        .x(d => x(d[0]))
        .y(d => y(d[1]));

    // draw oldest first so 2025 sits above, average on top of all
    const order = [10, 9, 8, 7, 6, 5, 4, 3, 2, 1, 0, 11];

    const legendRow = 19.2;

    return (
        <div style={{ position: 'absolute', left: 0, top: 0 }}>
            <svg width={W} height={H} style={{ display: 'block', fontFamily: FONT }}>
                <defs>
                    <linearGradient id="bg" x1="0" y1="0" x2="0" y2="1">
                        <stop offset="0%" stopColor="#1d2b36" />
                        <stop offset="45%" stopColor="#111a21" />
                        <stop offset="100%" stopColor="#000000" />
                    </linearGradient>
                    <clipPath id="plotClip">
                        <rect x={0} y={0} width={plotRight} height={plotBottom} />
                    </clipPath>
                </defs>
                <rect x={0} y={0} width={W} height={H} fill="#000" />
                <rect x={0} y={0} width={W} height={plotBottom} fill="url(#bg)" />

                {/* legend box */}
                <rect x={-2} y={-2} width={318} height={246} fill="#171c22" stroke="#06080a" strokeWidth={2} />

                {/* grid */}
                <g stroke="#c9c9c9" strokeWidth={1} strokeDasharray="2,2" opacity={0.85}>
                    {yMajor.map(v => (
                        <line key={v} x1={0} x2={plotRight} y1={Math.round(y(v)) + 0.5} y2={Math.round(y(v)) + 0.5} />
                    ))}
                    {dateDays.map(d => (
                        <line key={d} x1={Math.round(x(d)) + 0.5} x2={Math.round(x(d)) + 0.5} y1={0} y2={plotBottom} />
                    ))}
                </g>

                {/* legend entries */}
                <g fontSize={16} fill="#fff">
                    {seriesNames.map((name, i) => {
                        const cy = 15 + i * legendRow;
                        return (
                            <g key={name}>
                                <rect x={9} y={cy - 7.5} width={15} height={15} fill={colors[i]} stroke="#000" strokeWidth={0.8} />
                                <text x={29} y={cy} dominantBaseline="central" xmlSpace="preserve">{name}</text>
                                <text x={245} y={cy} dominantBaseline="central">{lastValues[i]}</text>
                            </g>
                        );
                    })}
                </g>

                {/* series lines */}
                <g clipPath="url(#plotClip)" fill="none" strokeLinejoin="round">
                    {order.map(i => (
                        <path key={i} d={line(seriesData[i]) || ''} stroke={colors[i]}
                            strokeWidth={i === 11 ? 2.8 : 1.6} />
                    ))}
                </g>

                {/* axes */}
                <line x1={plotRight} x2={plotRight} y1={0} y2={plotBottom} stroke="#c8c8c8" strokeWidth={1.5} />
                <line x1={0} x2={plotRight} y1={plotBottom} y2={plotBottom} stroke="#c8c8c8" strokeWidth={1.5} />
                {dateDays.map(d => (
                    <line key={d} x1={Math.round(x(d)) + 0.5} x2={Math.round(x(d)) + 0.5} y1={plotBottom} y2={plotBottom + 4} stroke="#c8c8c8" />
                ))}
                {yMinor.map(v => (
                    <line key={v} x1={plotRight} x2={plotRight + 6} y1={y(v)} y2={y(v)} stroke="#a0a0a0" strokeWidth={1.2} />
                ))}
                {yMajor.map(v => (
                    <g key={v}>
                        <path d={`M${plotRight},${y(v) - 4}L${plotRight + 9},${y(v)}L${plotRight},${y(v) + 4}Z`} fill="#9a9a9a" />
                        {v !== -20 && (
                            <text x={1387} y={y(v)} dominantBaseline="central" fontSize={16} fill="#e6e6e6">{v}</text>
                        )}
                    </g>
                ))}
                {dateDays.map((d, i) => (
                    <text key={d} x={x(d)} y={1185} textAnchor="middle" dominantBaseline="central" fontSize={16} fill="#dcdcdc">
                        {dateLabels[i]}
                    </text>
                ))}

                {/* last value tags */}
                {order.map(i => {
                    const ty = y(+lastValues[i]);
                    return (
                        <g key={i}>
                            <path d={`M1378,${ty}L1386,${ty - 10.5}L1453,${ty - 10.5}L1453,${ty + 10.5}L1386,${ty + 10.5}Z`}
                                fill={colors[i]} />
                            <text x={1387} y={ty + 1} dominantBaseline="central" fontSize={16} fill={tagText[i]}>{lastValues[i]}</text>
                        </g>
                    );
                })}

                {/* toolbar */}
                <g fontSize={15} fill="#d8d8d8">
                    <rect x={592} y={-12} width={251} height={28} fill="#23282d" stroke="#4a4f55" />
                    <line x1={670} x2={670} y1={-12} y2={16} stroke="#3e4349" />
                    <line x1={765} x2={765} y1={-12} y2={16} stroke="#3e4349" />
                    <g stroke="#9aa0a6" strokeWidth={1.3} fill="none">
                        <circle cx={607} cy={4} r={4} />
                        <line x1={601} x2={613} y1={4} y2={4} />
                        <line x1={607} x2={607} y1={-2} y2={10} />
                        <line x1={680} x2={689} y1={10} y2={0} />
                        <line x1={680} x2={690} y1={11} y2={11} />
                        <circle cx={782} cy={2} r={4.5} />
                        <line x1={785} x2={790} y1={6} y2={11} />
                    </g>
                    <text x={623} y={10}>Track</text>
                    <text x={702} y={10}>Annotate</text>
                    <text x={798} y={10}>Zoom</text>
                    <rect x={768} y={18} width={75} height={25} fill="#23282d" stroke="#4a4f55" />
                    <circle cx={784} cy={31} r={5.5} fill="#e8e8e8" />
                    <circle cx={784} cy={31} r={2.3} fill="#23282d" />
                    <text x={799} y={31} dominantBaseline="central">Reset</text>
                </g>
            </svg>
        </div>
    );
};

export default App;
